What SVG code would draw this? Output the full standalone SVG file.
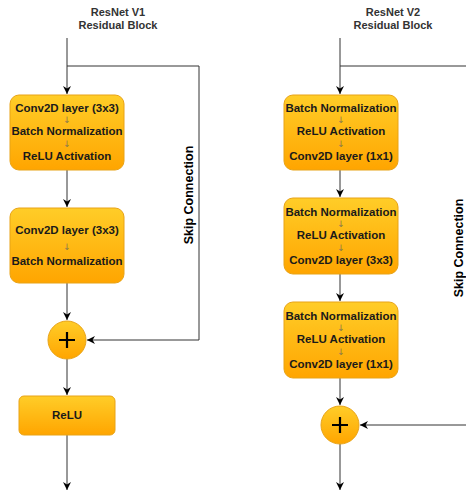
<svg xmlns="http://www.w3.org/2000/svg" width="466" height="491" viewBox="0 0 466 491">
<defs>
<linearGradient id="g" x1="0" y1="0" x2="0" y2="1">
<stop offset="0" stop-color="#ffcd28"/>
<stop offset="1" stop-color="#ffa500"/>
</linearGradient>
<marker id="a" viewBox="0 0 10 10" refX="10" refY="5" markerWidth="8" markerHeight="8" markerUnits="userSpaceOnUse" orient="auto">
<path d="M0,0 L10,5 L0,10 L3,5 Z" fill="#000"/>
</marker>
<style>
.box{fill:url(#g);stroke:#e8a317;stroke-width:1}
.t{font-family:"Liberation Sans",Arial,sans-serif;font-weight:bold;font-size:11.5px;fill:#1a1a1a;text-anchor:middle}
.h{font-family:"Liberation Sans",Arial,sans-serif;font-weight:bold;font-size:11px;fill:#333;text-anchor:middle}
.s{font-family:"Liberation Sans",Arial,sans-serif;font-weight:bold;font-size:12.5px;fill:#000;text-anchor:middle}
.ar{font-family:"DejaVu Sans",sans-serif;font-size:9px;fill:#8c7b4a;text-anchor:middle}
.c{fill:none;stroke:#333;stroke-width:1}
.p{stroke:#000;stroke-width:2.2}
</style>
</defs>
<g id="connectors">
<path class="c" d="M67,38 V94" marker-end="url(#a)"/>
<path class="c" d="M67,66 H199 V340 H87" marker-end="url(#a)"/>
<path class="c" d="M67,170 V207" marker-end="url(#a)"/>
<path class="c" d="M67,283 V320" marker-end="url(#a)"/>
<path class="c" d="M67,359 V395" marker-end="url(#a)"/>
<path class="c" d="M67,435 V490" marker-end="url(#a)"/>
<path class="c" d="M340,38 V94" marker-end="url(#a)"/>
<path class="c" d="M340,66 H466"/>
<path class="c" d="M340,170 V197" marker-end="url(#a)"/>
<path class="c" d="M340,274 V301" marker-end="url(#a)"/>
<path class="c" d="M340,378 V405" marker-end="url(#a)"/>
<path class="c" d="M466,425 H360" marker-end="url(#a)"/>
<path class="c" d="M340,444 V490" marker-end="url(#a)"/>
</g>
<g id="title1"><text class="h" x="118" y="16">ResNet V1</text><text class="h" x="118" y="29">Residual Block</text></g>
<g id="title2"><text class="h" x="393" y="16">ResNet V2</text><text class="h" x="393" y="29">Residual Block</text></g>
<g id="skip1"><text class="s" transform="translate(193,195) rotate(-90)">Skip Connection</text></g>
<g id="skip2"><text class="s" transform="translate(463,248) rotate(-90)">Skip Connection</text></g>
<g id="v1box1">
<rect class="box" x="10" y="95" width="114" height="75" rx="9"/>
<text class="t" x="67" y="112">Conv2D layer (3x3)</text>
<text class="ar" x="67" y="123">↓</text>
<text class="t" x="67" y="135">Batch Normalization</text>
<text class="ar" x="67" y="147">↓</text>
<text class="t" x="67" y="160">ReLU Activation</text>
</g>
<g id="v1box2">
<rect class="box" x="10" y="208" width="114" height="75" rx="9"/>
<text class="t" x="67" y="234">Conv2D layer (3x3)</text>
<text class="ar" x="67" y="250">↓</text>
<text class="t" x="67" y="265">Batch Normalization</text>
</g>
<g id="v1add">
<circle cx="67" cy="340" r="19" class="box"/>
<path class="p" d="M59,340 H75 M67,332 V348"/>
</g>
<g id="v1relu">
<rect class="box" x="19" y="396" width="96" height="39" rx="5"/>
<text class="t" x="67" y="419">ReLU</text>
</g>
<g id="v2box1">
<rect class="box" x="284" y="95" width="114" height="75" rx="9"/>
<text class="t" x="341" y="112">Batch Normalization</text>
<text class="ar" x="341" y="123">↓</text>
<text class="t" x="341" y="135">ReLU Activation</text>
<text class="ar" x="341" y="147">↓</text>
<text class="t" x="341" y="160">Conv2D layer (1x1)</text>
</g>
<g id="v2box2">
<rect class="box" x="284" y="198" width="114" height="76" rx="9"/>
<text class="t" x="341" y="216">Batch Normalization</text>
<text class="ar" x="341" y="227">↓</text>
<text class="t" x="341" y="239">ReLU Activation</text>
<text class="ar" x="341" y="251">↓</text>
<text class="t" x="341" y="264">Conv2D layer (3x3)</text>
</g>
<g id="v2box3">
<rect class="box" x="284" y="302" width="114" height="76" rx="9"/>
<text class="t" x="341" y="320">Batch Normalization</text>
<text class="ar" x="341" y="331">↓</text>
<text class="t" x="341" y="343">ReLU Activation</text>
<text class="ar" x="341" y="355">↓</text>
<text class="t" x="341" y="368">Conv2D layer (1x1)</text>
</g>
<g id="v2add">
<circle cx="340" cy="425" r="19" class="box"/>
<path class="p" d="M332,425 H348 M340,417 V433"/>
</g>
</svg>
